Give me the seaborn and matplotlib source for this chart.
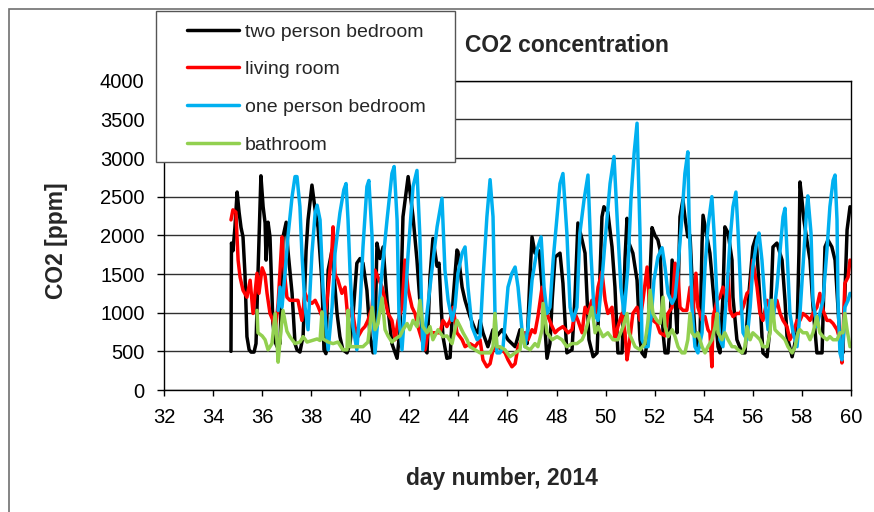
import matplotlib
matplotlib.use("Agg")
import matplotlib.pyplot as plt
import seaborn as sns
import pandas as pd
from matplotlib.patches import Rectangle
from matplotlib.lines import Line2D

# ---------------- data ----------------
rooms = ["two person bedroom", "living room", "one person bedroom", "bathroom"]
colors = ["#000000", "#FF0000", "#00B0F0", "#92D050"]

two_bed_day = [
    34.73, 34.75, 34.81, 34.89, 34.98, 35.06, 35.14, 35.22, 35.30, 35.38,
    35.47, 35.55, 35.67, 35.75, 35.83, 35.95, 36.04, 36.12, 36.16, 36.24,
    36.32, 36.44, 36.53, 36.61, 36.73, 36.85, 36.98, 37.05, 37.22, 37.34,
    37.42, 37.54, 37.67, 37.79, 37.87, 38.03, 38.16, 38.28, 38.44, 38.52,
    38.60, 38.69, 38.85, 38.97, 39.05, 39.17, 39.29, 39.46, 39.58, 39.70,
    39.86, 39.99, 40.11, 40.27, 40.40, 40.52, 40.60, 40.68, 40.80, 40.93,
    41.09, 41.29, 41.50, 41.62, 41.74, 41.95, 42.15, 42.31, 42.51, 42.64,
    42.72, 42.84, 42.96, 43.13, 43.21, 43.29, 43.37, 43.53, 43.66, 43.78,
    43.94, 43.98, 44.15, 44.27, 44.47, 44.68, 44.80, 44.88, 45.00, 45.20,
    45.41, 45.57, 45.78, 46.02, 46.31, 46.51, 46.71, 46.80, 46.92, 47.00,
    47.12, 47.29, 47.45, 47.61, 47.73, 47.82, 47.94, 48.14, 48.26, 48.42,
    48.63, 48.75, 48.87, 49.04, 49.16, 49.32, 49.49, 49.65, 49.77, 49.85,
    49.93, 50.09, 50.26, 50.38, 50.50, 50.67, 50.79, 50.87, 50.95, 51.11,
    51.28, 51.40, 51.48, 51.60, 51.73, 51.81, 51.89, 52.01, 52.13, 52.22,
    52.34, 52.42, 52.54, 52.62, 52.71, 52.83, 52.91, 52.95, 53.03, 53.15,
    53.23, 53.35, 53.44, 53.56, 53.64, 53.76, 53.84, 53.93, 53.97, 54.13,
    54.25, 54.46, 54.58, 54.66, 54.78, 54.86, 54.99, 55.15, 55.19, 55.35,
    55.56, 55.68, 55.84, 56.00, 56.13, 56.29, 56.41, 56.58, 56.70, 56.82,
    56.98, 57.19, 57.31, 57.39, 57.60, 57.80, 57.88, 57.92, 58.00, 58.08,
    58.20, 58.33, 58.45, 58.61, 58.82, 58.94, 59.06, 59.22, 59.35, 59.55,
    59.67, 59.84, 59.96,
]
two_bed_ppm = [
    500, 1900, 1800, 2100, 2560, 2300, 2100, 1980, 1500, 690,
    520, 490, 490, 600, 1500, 2770, 2370, 2160, 1680, 2170,
    1980, 860, 620, 560, 600, 1980, 2170, 1810, 1250, 600,
    520, 490, 700, 1800, 2200, 2650, 2330, 2100, 1380, 520,
    470, 1550, 1810, 1330, 1000, 690, 520, 480, 600, 950,
    1640, 1700, 1640, 1290, 690, 480, 700, 1900, 1700, 1850,
    1160, 600, 410, 800, 2240, 2760, 2240, 1680, 780, 520,
    480, 1460, 1960, 1600, 1640, 1100, 690, 410, 420, 1160,
    1810, 1790, 1330, 1160, 950, 780, 740, 900, 740, 560,
    780, 700, 780, 650, 560, 780, 700, 600, 1510, 1980,
    1770, 1800, 1160, 410, 600, 1160, 1720, 1770, 1380, 480,
    520, 1200, 2160, 1940, 1770, 650, 430, 480, 1500, 2240,
    2370, 2300, 1850, 1330, 480, 480, 1700, 2220, 1900, 1770,
    1420, 650, 480, 430, 700, 1500, 2100, 2000, 1940, 1810,
    740, 480, 480, 800, 1680, 1160, 740, 1200, 2240, 2460,
    2240, 1980, 2000, 1160, 740, 520, 600, 1900, 2260, 1980,
    1770, 1000, 560, 480, 1200, 2110, 2030, 1680, 1200, 650,
    480, 480, 1250, 1850, 1980, 1160, 480, 430, 800, 1850,
    1900, 1680, 1160, 700, 430, 740, 1800, 2690, 2460, 2200,
    1940, 1680, 1080, 480, 480, 1850, 1940, 1850, 1680, 650,
    480, 2070, 2370,
]

living_day = [
    34.73, 34.81, 34.93, 35.02, 35.10, 35.22, 35.38, 35.51, 35.63, 35.79,
    35.87, 36.00, 36.12, 36.20, 36.32, 36.44, 36.53, 36.65, 36.81, 36.85,
    37.01, 37.13, 37.34, 37.46, 37.62, 37.75, 37.87, 38.03, 38.16, 38.28,
    38.44, 38.56, 38.69, 38.85, 38.89, 38.97, 39.09, 39.25, 39.38, 39.50,
    39.66, 39.78, 39.91, 40.07, 40.19, 40.31, 40.48, 40.60, 40.72, 40.89,
    41.01, 41.13, 41.29, 41.42, 41.54, 41.70, 41.82, 41.95, 42.11, 42.23,
    42.35, 42.51, 42.64, 42.76, 42.92, 43.13, 43.25, 43.37, 43.53, 43.66,
    43.78, 43.94, 44.15, 44.27, 44.47, 44.68, 44.88, 45.00, 45.16, 45.29,
    45.41, 45.57, 45.69, 45.90, 46.02, 46.18, 46.31, 46.43, 46.59, 46.71,
    46.84, 47.00, 47.12, 47.24, 47.41, 47.53, 47.65, 47.82, 47.94, 48.06,
    48.26, 48.47, 48.63, 48.75, 48.87, 49.04, 49.16, 49.28, 49.44, 49.57,
    49.69, 49.85, 49.98, 50.09, 50.26, 50.38, 50.50, 50.67, 50.79, 50.87,
    50.95, 51.11, 51.28, 51.40, 51.52, 51.69, 51.81, 51.93, 52.09, 52.22,
    52.42, 52.54, 52.71, 52.83, 52.95, 53.03, 53.15, 53.31, 53.44, 53.56,
    53.68, 53.76, 53.93, 54.05, 54.17, 54.25, 54.33, 54.38, 54.54, 54.66,
    54.78, 54.95, 54.99, 55.07, 55.19, 55.35, 55.48, 55.60, 55.76, 55.89,
    56.00, 56.17, 56.29, 56.41, 56.58, 56.70, 56.82, 56.98, 57.11, 57.23,
    57.39, 57.51, 57.64, 57.80, 57.92, 58.04, 58.20, 58.33, 58.45, 58.61,
    58.73, 58.86, 59.02, 59.14, 59.27, 59.43, 59.55, 59.63, 59.67, 59.75,
    59.88, 59.96,
]
living_ppm = [
    2200, 2330, 2300, 1680, 1460, 1290, 1200, 1420, 990, 1510,
    1250, 1580, 1480, 1250, 990, 900, 740, 1120, 1980, 1700,
    1200, 1160, 1160, 1160, 900, 1250, 1160, 1120, 1160, 1080,
    950, 900, 1300, 1850, 2110, 1500, 1420, 1250, 1330, 900,
    1070, 820, 690, 780, 820, 900, 1070, 1550, 1460, 1330,
    1160, 990, 900, 650, 900, 1070, 1680, 1300, 1070, 990,
    820, 650, 520, 740, 740, 740, 740, 900, 820, 900,
    1070, 740, 650, 560, 600, 560, 650, 390, 300, 340,
    520, 560, 540, 480, 390, 300, 340, 560, 650, 740,
    650, 780, 740, 950, 1330, 1070, 950, 820, 740, 780,
    820, 740, 780, 990, 900, 740, 1070, 990, 1160, 990,
    1330, 1530, 1160, 990, 1070, 650, 820, 990, 740, 390,
    560, 990, 1070, 900, 1160, 1590, 990, 900, 860, 740,
    700, 990, 1070, 1640, 1510, 1070, 1030, 1030, 1330, 990,
    1510, 1070, 900, 950, 780, 740, 300, 950, 1160, 1200,
    1330, 1160, 1510, 1030, 950, 990, 990, 1070, 1250, 1290,
    1680, 1330, 990, 900, 1160, 1070, 990, 1160, 990, 900,
    820, 650, 740, 900, 900, 990, 950, 900, 990, 1070,
    1250, 1030, 900, 900, 860, 780, 650, 350, 650, 1380,
    1460, 1680,
]

one_bed_day = [
    36.65, 36.73, 36.81, 36.93, 37.05, 37.22, 37.34, 37.42, 37.54, 37.62,
    37.75, 37.87, 38.03, 38.16, 38.24, 38.36, 38.48, 38.60, 38.69, 38.85,
    38.97, 39.17, 39.33, 39.42, 39.50, 39.58, 39.70, 39.86, 39.99, 40.11,
    40.27, 40.35, 40.48, 40.52, 40.60, 40.72, 40.89, 41.09, 41.29, 41.38,
    41.50, 41.58, 41.70, 41.82, 41.95, 42.15, 42.31, 42.43, 42.51, 42.55,
    42.72, 42.92, 43.13, 43.33, 43.45, 43.58, 43.74, 43.86, 43.98, 44.15,
    44.27, 44.39, 44.55, 44.76, 44.88, 45.00, 45.16, 45.29, 45.41, 45.49,
    45.57, 45.69, 45.82, 46.02, 46.18, 46.31, 46.43, 46.59, 46.71, 46.84,
    47.00, 47.20, 47.37, 47.49, 47.61, 47.73, 47.86, 48.02, 48.14, 48.26,
    48.42, 48.55, 48.67, 48.83, 48.95, 49.12, 49.28, 49.40, 49.53, 49.69,
    49.85, 49.98, 50.18, 50.34, 50.50, 50.62, 50.75, 50.91, 51.03, 51.16,
    51.28, 51.40, 51.48, 51.60, 51.73, 51.89, 51.97, 52.13, 52.30, 52.42,
    52.54, 52.71, 52.83, 52.95, 53.11, 53.23, 53.35, 53.40, 53.52, 53.64,
    53.76, 53.93, 54.05, 54.17, 54.33, 54.42, 54.54, 54.66, 54.78, 54.95,
    55.07, 55.19, 55.31, 55.40, 55.52, 55.60, 55.76, 55.89, 56.00, 56.17,
    56.25, 56.37, 56.49, 56.62, 56.70, 56.82, 56.98, 57.11, 57.23, 57.31,
    57.39, 57.51, 57.64, 57.80, 57.92, 58.04, 58.20, 58.24, 58.37, 58.45,
    58.61, 58.73, 58.86, 59.02, 59.14, 59.27, 59.35, 59.43, 59.47, 59.55,
    59.63, 59.75, 59.88, 59.96,
]
one_bed_ppm = [
    1030, 1330, 1070, 1500, 1980, 2500, 2760, 2760, 2370, 1770,
    1070, 780, 1770, 2290, 2390, 2200, 1330, 820, 520, 1070,
    1770, 2290, 2590, 2670, 2200, 1550, 820, 520, 1070, 1850,
    2630, 2710, 1980, 920, 480, 920, 1550, 2200, 2800, 2890,
    2200, 920, 520, 1070, 1770, 2630, 2840, 1980, 920, 520,
    990, 1550, 2110, 2480, 1550, 1160, 900, 1070, 1510, 1770,
    1850, 1330, 820, 650, 690, 1420, 2240, 2720, 2240, 1000,
    480, 480, 560, 1330, 1510, 1590, 1330, 780, 560, 820,
    1420, 1810, 1980, 1330, 990, 1070, 1680, 2240, 2670, 2800,
    2030, 1070, 900, 1070, 2030, 2460, 2780, 1770, 990, 900,
    1420, 1940, 2670, 3020, 2030, 1330, 990, 1590, 2460, 3060,
    3450, 2030, 650, 560, 560, 1070, 1420, 1720, 1840, 1590,
    1250, 1120, 1200, 1590, 2240, 2800, 3080, 2240, 1070, 560,
    480, 740, 1590, 2110, 2500, 2030, 1160, 650, 560, 1330,
    1940, 2370, 2560, 2030, 1160, 740, 650, 1070, 1590, 1940,
    2030, 1680, 1160, 780, 1160, 900, 1330, 1810, 2240, 2350,
    1810, 990, 740, 560, 990, 1590, 2370, 2510, 2030, 1160,
    820, 990, 1160, 1810, 2370, 2710, 2780, 2200, 1160, 480,
    390, 1070, 1160, 1250,
]

bath_day = [
    35.79, 35.83, 36.00, 36.12, 36.24, 36.40, 36.53, 36.61, 36.65, 36.77,
    36.85, 37.01, 37.13, 37.34, 37.54, 37.67, 37.83, 38.03, 38.24, 38.36,
    38.44, 38.48, 38.69, 38.89, 39.09, 39.29, 39.46, 39.50, 39.58, 39.70,
    39.91, 40.11, 40.31, 40.48, 40.60, 40.72, 40.89, 41.01, 41.13, 41.29,
    41.42, 41.62, 41.74, 41.91, 42.02, 42.15, 42.31, 42.43, 42.55, 42.72,
    42.84, 42.96, 43.17, 43.37, 43.53, 43.74, 43.94, 44.07, 44.19, 44.35,
    44.47, 44.68, 44.88, 45.08, 45.29, 45.41, 45.49, 45.57, 45.69, 45.90,
    46.10, 46.31, 46.51, 46.59, 46.71, 46.92, 47.12, 47.24, 47.41, 47.45,
    47.61, 47.82, 48.02, 48.22, 48.42, 48.63, 48.83, 49.04, 49.16, 49.44,
    49.57, 49.69, 49.89, 50.09, 50.30, 50.50, 50.71, 50.87, 50.95, 51.20,
    51.40, 51.60, 51.73, 51.81, 51.93, 52.09, 52.22, 52.34, 52.42, 52.54,
    52.71, 52.83, 52.95, 53.11, 53.23, 53.35, 53.44, 53.52, 53.64, 53.76,
    53.93, 54.05, 54.17, 54.33, 54.46, 54.54, 54.58, 54.74, 54.86, 54.99,
    55.15, 55.27, 55.40, 55.56, 55.68, 55.76, 55.89, 56.00, 56.17, 56.29,
    56.41, 56.58, 56.70, 56.78, 56.90, 57.02, 57.19, 57.31, 57.43, 57.60,
    57.72, 57.84, 57.92, 58.04, 58.20, 58.33, 58.45, 58.61, 58.73, 58.86,
    59.02, 59.14, 59.27, 59.43, 59.55, 59.67, 59.75, 59.84, 59.96,
]
bath_ppm = [
    1030, 740, 700, 650, 520, 600, 990, 600, 360, 780,
    1030, 760, 690, 600, 620, 690, 620, 640, 660, 640,
    1010, 660, 620, 600, 620, 520, 520, 1030, 560, 560,
    560, 560, 620, 1070, 780, 860, 1190, 780, 700, 620,
    660, 700, 780, 860, 780, 900, 820, 1160, 820, 740,
    820, 650, 780, 690, 700, 600, 900, 820, 740, 650,
    560, 520, 480, 480, 480, 560, 990, 560, 560, 520,
    430, 480, 520, 780, 560, 520, 600, 560, 780, 1120,
    740, 650, 690, 650, 560, 600, 600, 650, 740, 1070,
    740, 820, 690, 740, 650, 650, 820, 990, 740, 560,
    520, 600, 900, 1290, 990, 900, 860, 1200, 820, 690,
    780, 690, 560, 480, 480, 650, 990, 740, 690, 740,
    560, 480, 560, 650, 820, 990, 740, 650, 740, 650,
    560, 560, 520, 480, 560, 820, 650, 740, 690, 650,
    560, 560, 740, 1160, 780, 740, 690, 650, 560, 480,
    560, 740, 780, 740, 740, 650, 740, 950, 740, 690,
    650, 690, 650, 650, 740, 740, 990, 780, 560,
]

x_ticks = list(range(32, 61, 2))
y_ticks = list(range(0, 4001, 500))

# ---------------- build long table ----------------
series = [
    (rooms[0], two_bed_day, two_bed_ppm),
    (rooms[1], living_day, living_ppm),
    (rooms[2], one_bed_day, one_bed_ppm),
    (rooms[3], bath_day, bath_ppm),
]
frames = []
for name, d, v in series:
    assert len(d) == len(v), (name, len(d), len(v))
    frames.append(pd.DataFrame({"day": d, "co2": v, "room": name}))
df = pd.concat(frames, ignore_index=True)

# ---------------- style ----------------
sns.set_style("white")
plt.rcParams["font.family"] = ["Liberation Sans", "DejaVu Sans"]

W, H = 874, 512
fig = plt.figure(figsize=(W / 100, H / 100), dpi=100)
fig.patch.set_facecolor("white")

ax_l, ax_r, ax_t, ax_b = 164, 851, 80.7, 390
ax = fig.add_axes([ax_l / W, 1 - ax_b / H, (ax_r - ax_l) / W, (ax_b - ax_t) / H])

LW = 2.5
sns.lineplot(
    data=df, x="day", y="co2", hue="room", hue_order=rooms,
    palette=dict(zip(rooms, colors)), estimator=None, sort=False,
    linewidth=LW, legend=False, ax=ax,
)
for ln in ax.lines:
    ln.set_solid_joinstyle("round")

ax.set_xlim(32, 60)
ax.set_ylim(0, 4000)
ax.set_xticks(x_ticks)
ax.set_yticks(y_ticks)
ax.set_xlabel("")
ax.set_ylabel("")
ax.yaxis.grid(True, color="#303030", linewidth=1.0)
ax.xaxis.grid(False)
ax.set_axisbelow(True)
for s in ax.spines.values():
    s.set_visible(True)
    s.set_color("#000000")
    s.set_linewidth(1.0)
ax.tick_params(axis="x", direction="out", length=4, width=1, pad=9,
               labelsize=14.5, colors="#000000")
ax.tick_params(axis="y", direction="out", length=5, width=1, pad=9,
               labelsize=14.5, colors="#000000")
ax.tick_params(bottom=True, left=True)

# outer chart frame
fig.add_artist(Rectangle((9 / W, -0.1), 1.2, 1.1 - 9 / H, transform=fig.transFigure,
                         fill=False, edgecolor="#707070", linewidth=1.2, zorder=0.5))

# legend frame (sits over the plot like the reference)
fig.add_artist(Rectangle((156 / W, 1 - 162 / H), (455 - 156) / W, (162 - 11) / H,
                         transform=fig.transFigure, facecolor="white",
                         edgecolor="#555555", linewidth=1.0, zorder=3))
handles = [Line2D([0], [0], color=c, lw=LW) for c in colors]
fig.legend(handles, rooms, loc="upper left", bbox_to_anchor=(187 / W, 1 - 23 / H),
           frameon=False, borderpad=0, borderaxespad=0, fontsize=14,
           handlelength=2.67, handletextpad=0.3, labelspacing=1.03)

# titles / labels
fig.text(465 / W, 1 - 45 / H, "CO2 concentration", fontsize=16.5, fontweight="bold",
         ha="left", va="center")
fig.text(57 / W, 1 - 241 / H, "CO2 [ppm]", fontsize=16.5, fontweight="bold",
         rotation=90, ha="center", va="center")
fig.text(502 / W, 1 - 479 / H, "day number, 2014", fontsize=16.5, fontweight="bold",
         ha="center", va="center")

fig.savefig("out.png", dpi=100, facecolor="white")
